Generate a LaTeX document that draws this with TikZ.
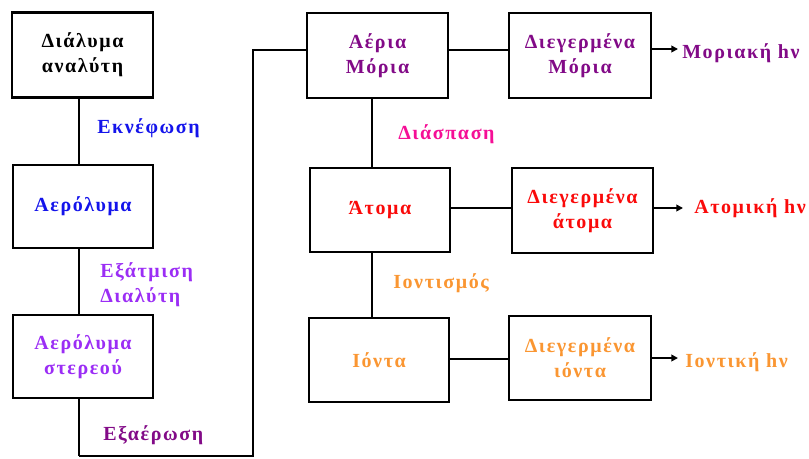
\documentclass[tikz,border=0pt]{standalone}
\usepackage{fontspec}
\setmainfont{Liberation Serif}[LetterSpace=8]
\usetikzlibrary{arrows.meta}
\definecolor{cblue}{RGB}{20,20,235}
\definecolor{cviolet}{RGB}{155,45,245}
\definecolor{cpurple}{RGB}{130,10,135}
\definecolor{cpink}{RGB}{245,15,150}
\definecolor{cred}{RGB}{250,10,10}
\definecolor{corange}{RGB}{250,150,50}
\tikzset{
  box/.style={draw=black, line width=1.8pt, rectangle, minimum width=#1*0.75pt, align=center, inner sep=0pt, font=\fontsize{15}{18.75}\selectfont\bfseries},
  box/.default=141,
  lab/.style={align=left, anchor=west, inner sep=0pt, font=\fontsize{15}{18.75}\selectfont\bfseries},
  conn/.style={line width=1.3pt},
  thick conn/.style={line width=2.1pt},
  arr/.style={line width=1.3pt, -{Triangle[length=5pt,width=5pt]}}
}
\begin{document}
\begin{tikzpicture}[x=0.75pt,y=-0.75pt]
\useasboundingbox (0,0) rectangle (809,458);
% left column
\node[box=141, minimum height=85*0.75pt] (b1) at (82.5,55) {Διάλυμα\\αναλύτη};
\node[box=140, minimum height=83*0.75pt, text=cblue] (b2) at (83,206.5) {Αερόλυμα};
\node[box=140, minimum height=83*0.75pt, text=cviolet] (b3) at (83,356.5) {Αερόλυμα\\στερεού};
% middle column
\node[box=141, minimum height=85*0.75pt, text=cpurple] (m1) at (377.5,55.5) {\raisebox{6pt}{\begin{tabular}{@{}c@{}}Αέρια\\Μόρια\end{tabular}}};
\node[box=140, minimum height=84*0.75pt, text=cred] (m2) at (380,210) {Άτομα};
\node[box=140, minimum height=84*0.75pt, text=corange] (m3) at (379,360) {Ιόντα};
% right column
\node[box=142, minimum height=85*0.75pt, text=cpurple] (r1) at (580,55.5) {Διεγερμένα\\Μόρια};
\node[box=141, minimum height=85*0.75pt, text=cred] (r2) at (582.5,210.5) {\raisebox{-4pt}{\begin{tabular}{@{}c@{}}Διεγερμένα\\άτομα\end{tabular}}};
\node[box=142, minimum height=84*0.75pt, text=corange] (r3) at (580,358) {Διεγερμένα\\ιόντα};
% labels
\node[lab, text=cblue] (l1) at (97,128) {Εκνέφωση};
\node[lab, text=cviolet] (l2) at (100,285) {Εξάτμιση\\Διαλύτη};
\node[lab, text=cpurple] (l3) at (103,435) {Εξαέρωση};
\node[lab, text=cpink] (l4) at (398,134) {Διάσπαση};
\node[lab, text=corange] (l5) at (393,283) {Ιοντισμός};
\node[lab, text=cpurple] (l6) at (682,53) {Μοριακή hν};
\node[lab, text=cred] (l7) at (694,208) {Ατομική hν};
\node[lab, text=corange] (l8) at (685,362) {Ιοντική hν};
% coordinates
\coordinate (c1) at (79,456);
\coordinate (c2) at (253,456);
\coordinate (c3) at (253,50);
\coordinate (a1) at (678,49);
\coordinate (a2) at (683,208);
\coordinate (a3) at (678,358);
% connectors
\draw[thick conn] (b1.south -| c1) -- (b2.north -| c1);
\draw[thick conn] (b2.south -| c1) -- (b3.north -| c1);
\draw[thick conn] (b3.south -| c1) -- (c1);
\draw[conn] (c1) -- (c2) -- (c3) -- (c3 -| m1.west);
\draw[conn] ([xshift=-4.1pt]m1.south) -- ([xshift=-4.1pt]m1.south |- m2.north);
\draw[conn] ([xshift=-6pt]m2.south) -- ([xshift=-6pt]m2.south |- m3.north);
\draw[conn] ([yshift=4.1pt]m1.east) -- ([yshift=4.1pt]m1.east -| r1.west);
\draw[conn] ([yshift=1.5pt]m2.east) -- ([yshift=1.5pt]m2.east -| r2.west);
\draw[conn] ([yshift=0.75pt]m3.east) -- ([yshift=0.75pt]m3.east -| r3.west);
\draw[arr] (r1.east |- a1) -- (a1);
\draw[arr] (r2.east |- a2) -- (a2);
\draw[arr] (r3.east |- a3) -- (a3);
\end{tikzpicture}
\end{document}
